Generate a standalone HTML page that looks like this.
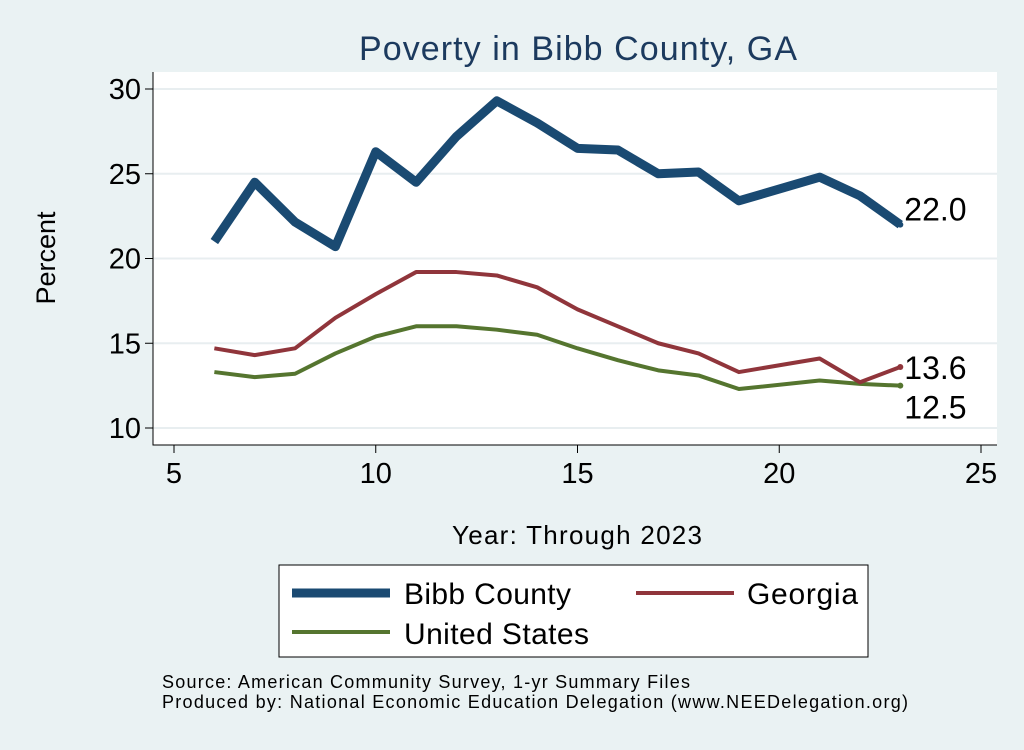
<!DOCTYPE html>
<html><head><meta charset="utf-8"><style>
body{margin:0;width:1024px;height:745px;background:#eaf2f3;overflow:hidden;font-family:"Liberation Sans",sans-serif}
</style></head><body>
<svg width="1024" height="745" xmlns="http://www.w3.org/2000/svg" font-family="Liberation Sans, sans-serif">
<rect x="0" y="0" width="1024" height="745" fill="#eaf2f3"/>
<text x="578" y="60" font-size="34" fill="#1c3a5e" text-anchor="middle" textLength="438">Poverty in Bibb County, GA</text>
<rect x="153" y="72" width="844" height="373" fill="#fff"/>
<g id="grid"></g><g id="axes"></g><g id="series"></g>
<text x="55" y="258" font-size="27" transform="rotate(-90 55 258)" text-anchor="middle">Percent</text>
<text x="577" y="544" font-size="26" text-anchor="middle" textLength="250">Year: Through 2023</text>
<g>
<rect x="279" y="565" width="589" height="92" fill="#fff" stroke="#000" stroke-width="1"/>
<line x1="292" y1="593" x2="390" y2="593" stroke="#1a4a72" stroke-width="9"/>
<text x="404" y="604" font-size="30" textLength="167">Bibb County</text>
<line x1="636" y1="593" x2="734" y2="593" stroke="#90353b" stroke-width="4"/>
<text x="747" y="604" font-size="30" textLength="111">Georgia</text>
<line x1="292" y1="632" x2="390" y2="632" stroke="#55752f" stroke-width="4"/>
<text x="404" y="644" font-size="30" textLength="185">United States</text>
</g>
<text x="162" y="688" font-size="18" textLength="528">Source: American Community Survey, 1-yr Summary Files</text>
<text x="162" y="708" font-size="18" textLength="746">Produced by: National Economic Education Delegation (www.NEEDelegation.org)</text>
</svg>
<script>
const years=[6,7,8,9,10,11,12,13,14,15,16,17,18,19,21,22,23];
const bibb=[21.0,24.5,22.15,20.7,26.3,24.5,27.2,29.3,28.0,26.5,26.4,25.0,25.1,23.4,24.8,23.7,22.0];
const georgia=[14.7,14.3,14.7,16.5,17.9,19.2,19.2,19.0,18.3,17.0,16.0,15.0,14.4,13.3,14.1,12.7,13.6];
const us=[13.3,13.0,13.2,14.4,15.4,16.0,16.0,15.8,15.5,14.7,14.0,13.4,13.1,12.3,12.8,12.6,12.5];
const xTicks=[5,10,15,20,25];
const yTicks=[10,15,20,25,30];
const NS="http://www.w3.org/2000/svg";
const X=v=>174+(v-5)*(981-174)/20;
const Y=v=>428-(v-10)*(428-89)/20;
function mk(t,a,p){const e=document.createElementNS(NS,t);for(const k in a)e.setAttribute(k,a[k]);document.getElementById(p).appendChild(e);return e;}
yTicks.forEach(v=>{
 const g=mk('line',{x1:153,x2:997,y1:Y(v),y2:Y(v),stroke:'#e8eef0','stroke-width':2},'grid');
 
 
 const t=mk('line',{x1:145,x2:153,y1:Y(v),y2:Y(v),stroke:'#000'},'axes');
 
 
 const l=mk('text',{x:141,y:Y(v)+10,'font-size':29,'text-anchor':'end'},'axes');l.textContent=v;
 
 
});
xTicks.forEach(v=>{
 const t=mk('line',{x1:X(v),x2:X(v),y1:445,y2:453,stroke:'#000'},'axes');
 
 
 const l=mk('text',{x:X(v),y:483,'font-size':29,'text-anchor':'middle'},'axes');l.textContent=v;
 
 
});
const ax=mk('path',{d:'M153 72V445H997',fill:'none',stroke:'#000','stroke-width':1},'axes');


function line(vals,col,w,name,lblDy){
 const p=mk('polyline',{points:years.map((y,i)=>X(y)+','+Y(vals[i])).join(' '),fill:'none',stroke:col,'stroke-width':w,'stroke-linejoin':'round'},'series');
 
 
 const n=vals.length-1;
 const d=mk('circle',{cx:X(years[n]),cy:Y(vals[n]),r:3,fill:col},'series');
 
 
 const l=mk('text',{x:X(years[n])+4,y:Y(vals[n])+lblDy,'font-size':32},'series');l.textContent=vals[n].toFixed(1);
 
 
}
line(us,'#55752f',4,'us',33);
line(georgia,'#90353b',4,'georgia',12);
line(bibb,'#1a4a72',9,'bibb',-4);
</script>
</body></html>
